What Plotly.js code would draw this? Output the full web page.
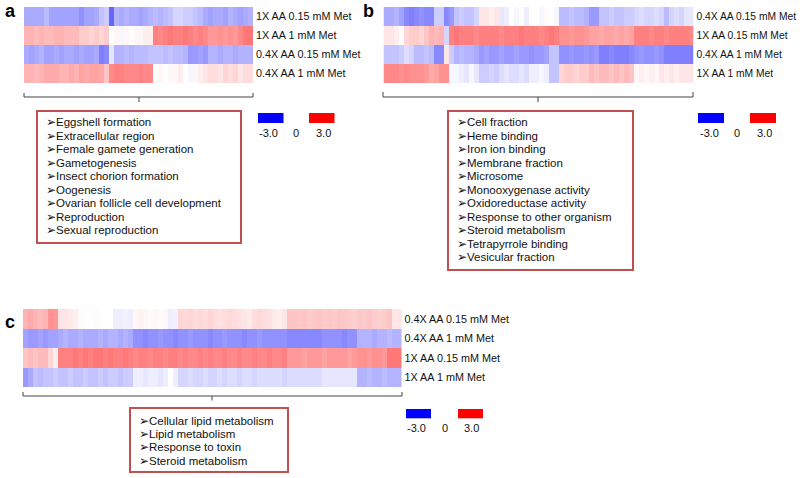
<!DOCTYPE html>
<html><head><meta charset="utf-8">
<script src="https://cdn.plot.ly/plotly-3.0.1.min.js"></script>
<style>html,body{margin:0;padding:0;background:#fff}#chart{width:800px;height:478px}</style>
</head><body><div id="chart"></div>
<script>
// ---------------- DATA ----------------
const rowsA = ["1X AA 0.15 mM Met", "1X AA 1 mM Met", "0.4X AA 0.15 mM Met", "0.4X AA 1 mM Met"];
const rowsB = ["0.4X AA 0.15 mM Met", "1X AA 0.15 mM Met", "0.4X AA 1 mM Met", "1X AA 1 mM Met"];
const rowsC = ["0.4X AA 0.15 mM Met", "0.4X AA 1 mM Met", "1X AA 0.15 mM Met", "1X AA 1 mM Met"];

const a1 = [-1.0,-1.0,-1.0,-1.0,-0.8,-1.1,-1.1,-1.1,-1.1,-1.1,-1.1,-1.3,-1.1,-1.1,-1.0,-0.7,-0.6,-1.8,-0.9,-1.0,-0.9,-1.0,-1.0,-1.1,-1.0,-0.9,-0.8,-0.9,-0.8,-0.7,-0.5,-0.5,-0.6,-0.6,-0.7,-0.8,-1.0,-1.1,-1.0,-1.0,-1.1,-0.9,-1.0,-1.1,-1.0,-0.9];
const a2 = [0.9,0.9,0.8,0.9,0.8,0.8,0.9,0.9,0.8,0.8,0.8,0.6,0.6,0.5,0.6,0.5,0.6,0.0,0.1,-0.1,0.1,0.0,0.1,0.1,0.2,0.2,1.5,1.4,1.5,1.6,1.5,1.5,1.6,1.5,1.4,1.5,1.4,1.2,1.2,1.3,1.2,1.3,1.2,1.4,1.6,1.6];
const a3 = [-1.0,-1.1,-1.0,-0.9,-1.1,-1.1,-1.0,-1.1,-1.0,-1.0,-1.1,-1.0,-1.1,-1.1,-1.0,-1.5,-1.4,-0.3,-0.9,-0.9,-0.8,-0.9,-0.8,-0.8,-0.8,-0.7,-0.7,-0.7,-0.8,-0.7,-0.8,-0.8,-0.9,-1.2,-1.2,-1.1,-1.2,-0.9,-0.9,-1.0,-0.9,-0.9,-1.0,-0.9,-0.9,-0.9];
const a4 = [0.9,0.9,0.8,0.9,1.0,1.0,1.0,0.9,0.9,1.0,0.9,1.1,1.0,1.1,1.1,1.0,0.7,1.4,1.5,1.5,1.4,1.4,1.4,1.5,1.4,1.4,0.0,0.1,0.0,0.1,0.1,0.2,0.0,-0.1,0.1,0.2,0.3,0.4,0.4,0.3,0.5,0.4,0.5,0.3,0.4,0.4];

const b1 = [-1.0,-1.0,-0.9,-1.1,-1.4,-1.5,-1.4,-1.3,-1.4,-1.4,-0.6,-0.6,-1.4,-1.2,-0.7,-0.6,-0.7,-0.7,-0.5,0.3,0.3,0.2,0.3,-0.3,-0.2,0.0,-0.1,0.0,-0.2,0.0,0.0,-0.1,0.05,0.0,-0.1,-0.8,-0.8,-0.7,-0.8,-0.8,-0.9,-1.2,-1.2,-0.7,-0.7,-0.6,-0.7,-0.7,-0.6,-0.6,-0.5,-0.4,-0.5,-0.5,-0.4,-0.5,-0.8,-0.5,-0.4,-0.5,-0.3,-0.3];
const b2 = [0.3,0.3,0.2,0.0,0.5,0.6,0.6,0.5,0.7,0.9,0.8,0.9,-0.5,1.5,1.6,1.5,1.5,1.5,1.4,1.5,1.5,1.5,1.5,1.4,1.5,1.5,1.5,1.6,1.5,1.5,1.5,1.4,1.5,1.6,1.5,1.3,1.3,1.2,1.3,1.3,1.2,1.1,1.1,1.0,1.1,1.1,1.0,1.1,1.0,1.1,1.5,1.5,1.5,1.4,1.5,1.5,1.4,1.5,1.5,1.5,1.5,1.4];
const b3 = [-0.7,-0.7,-0.7,-0.6,-0.4,-0.5,-0.8,-0.8,-0.7,-0.8,-1.4,-1.4,0.3,-0.6,-0.9,-0.8,-0.9,-0.9,-1.0,-1.2,-1.1,-1.2,-1.2,-1.1,-1.2,-1.2,-1.1,-1.2,-1.2,-1.3,-1.2,-1.2,-1.1,-0.7,-0.7,-1.3,-1.3,-1.2,-1.3,-1.3,-1.2,-1.3,-1.2,-1.5,-1.5,-1.4,-1.5,-1.5,-1.5,-1.4,-1.3,-1.2,-1.3,-1.3,-1.2,-1.3,-1.5,-1.5,-1.5,-1.5,-1.5,-1.5];
const b4 = [1.4,1.4,1.4,1.3,1.4,1.3,1.3,1.3,1.2,1.0,1.1,1.3,1.3,-0.1,-0.1,-0.2,-0.3,-0.1,-0.3,-0.6,-0.6,-0.5,-0.6,-0.4,-0.3,-0.4,-0.4,-0.3,-0.4,-0.2,-0.2,-0.1,-0.2,-0.7,-0.7,0.5,0.6,0.6,0.5,0.6,0.6,0.8,0.7,0.8,0.8,0.7,0.8,0.7,0.8,0.7,0.1,0.2,0.1,0.2,0.1,0.3,0.2,0.3,0.2,0.3,0.3,0.3];

const c1 = [0.9,1.0,0.9,0.8,0.9,1.3,1.2,0.3,0.3,0.25,0.2,0.05,0.0,0.0,0.05,0.0,0.0,0.0,-0.2,-0.2,-0.15,-0.2,0.1,0.15,0.1,0.05,0.1,0.05,0.1,-0.2,-0.15,0.5,0.45,0.5,0.4,0.45,0.4,0.5,0.4,0.35,0.4,0.45,0.4,0.35,0.3,0.25,0.4,0.45,0.4,0.35,0.25,0.2,0.3,0.7,0.7,0.65,0.7,0.6,0.65,0.7,0.6,0.65,0.6,0.7,0.65,0.6,0.55,0.65,0.6,0.7,0.6,0.55,0.6,0.7,0.3,0.3];
const c2 = [-1.1,-1.2,-1.2,-1.1,-1.2,-1.1,-1.1,-1.0,-0.9,-1.0,-1.0,-0.9,-1.0,-1.0,-1.0,-0.9,-1.0,-0.9,-0.9,-1.0,-0.9,-1.0,-1.3,-1.3,-1.4,-1.3,-1.3,-1.2,-1.3,-1.3,-1.4,-1.3,-1.3,-1.2,-1.3,-1.3,-1.3,-1.4,-1.3,-1.3,-1.2,-1.3,-1.3,-1.3,-1.4,-1.3,-1.3,-1.2,-1.3,-1.3,-1.3,-1.3,-1.3,-1.4,-1.4,-1.4,-1.4,-1.4,-1.4,-1.4,-1.3,-1.3,-1.3,-1.3,-1.4,-1.3,-1.3,-0.9,-0.9,-0.9,-1.0,-0.9,-0.9,-0.8,-0.9,-0.9];
const c3 = [0.7,0.8,0.7,0.8,0.8,0.5,0.2,1.5,1.5,1.5,1.6,1.5,1.6,1.5,1.6,1.6,1.5,1.6,1.5,1.5,1.6,1.5,1.4,1.5,1.5,1.4,1.5,1.5,1.4,1.5,1.5,1.4,1.5,1.4,1.4,1.5,1.4,1.5,1.4,1.4,1.5,1.4,1.4,1.5,1.4,1.4,1.5,1.4,1.4,1.5,1.4,1.4,1.5,1.2,1.2,1.2,1.1,1.2,1.2,1.2,1.1,1.2,1.2,1.2,1.2,1.1,1.2,1.3,1.3,1.2,1.3,1.3,1.2,1.6,1.6,1.6];
const c4 = [-1.2,-1.0,-0.7,-0.8,-0.7,-0.7,-0.6,-0.7,-0.7,-0.6,-0.7,-0.7,-0.6,-0.7,-0.7,-0.6,-0.7,-0.6,-0.6,-0.7,-0.6,-0.6,-0.2,-0.2,-0.3,-0.2,-0.2,-0.3,-0.2,0.0,-0.2,-0.5,-0.5,-0.4,-0.5,-0.5,-0.4,-0.5,-0.5,-0.4,-0.5,-0.4,-0.4,-0.5,-0.4,-0.4,-0.5,-0.4,-0.4,-0.4,-0.4,-0.4,-0.5,-0.4,-0.4,-0.4,-0.4,-0.4,-0.4,-0.4,-0.3,-0.3,-0.3,-0.3,-0.3,-0.3,-0.3,-0.9,-0.9,-0.8,-0.9,-0.9,-0.8,-0.9,-0.9,-0.9];

const termsA = ["Eggshell formation","Extracellular region","Female gamete generation","Gametogenesis","Insect chorion formation","Oogenesis","Ovarian follicle cell development","Reproduction","Sexual reproduction"];
const termsB = ["Cell fraction","Heme binding","Iron ion binding","Membrane fraction","Microsome","Monooxygenase activity","Oxidoreductase activity","Response to other organism","Steroid metabolism","Tetrapyrrole binding","Vesicular fraction"];
const termsC = ["Cellular lipid metabolism","Lipid metabolism","Response to toxin","Steroid metabolism"];

const scaleLabels = ["-3.0", "0", "3.0"];
const zMin = -3, zMax = 3;

// ---------------- LAYOUT ----------------
const W = 800, H = 478;
const px = x => x / W;
const py = y => 1 - y / H;
const FONT = "Liberation Sans, Arial, Helvetica, sans-serif";
const cs = [[0, "#0000ff"], [0.5, "#ffffff"], [1, "#ff0000"]];

const idx = n => Array.from({length: n}, (_, i) => i);

function hm(rows, data, xa, ya) {
  return {type: "heatmap", z: data, x: idx(data[0].length), y: idx(rows.length),
    colorscale: cs, zmin: zMin, zmax: zMax, showscale: false, hoverinfo: "skip",
    xaxis: xa, yaxis: ya, zsmooth: false};
}
const traces = [
  hm(rowsA, [a1, a2, a3, a4], "x", "y"),
  hm(rowsB, [b1, b2, b3, b4], "x2", "y2"),
  hm(rowsC, [c1, c2, c3, c4], "x3", "y3")
];

function xax(x0, x1) { return {domain: [px(x0), px(x1)], visible: false, fixedrange: true}; }
function yax(rows, y0, y1, anchor, fs) {
  return {domain: [py(y1), py(y0)], anchor: anchor, side: "right", autorange: "reversed",
    tickvals: idx(rows.length), ticktext: rows, ticks: "", ticklabelstandoff: 2, showgrid: false, zeroline: false,
    showline: false, tickfont: {family: FONT, size: fs, color: "#111"}, fixedrange: true};
}

const shapes = [], annotations = [];
const lineCol = "#444";
function bracket(x0, x1, xm, y, rise, drop) {
  shapes.push({type: "path", xref: "paper", yref: "paper",
    path: `M ${px(x0)} ${py(y - rise)} L ${px(x0)} ${py(y)} L ${px(x1)} ${py(y)} L ${px(x1)} ${py(y - rise)}`,
    line: {color: lineCol, width: 1}});
  shapes.push({type: "line", xref: "paper", yref: "paper", x0: px(xm), x1: px(xm), y0: py(y), y1: py(y + drop),
    line: {color: lineCol, width: 1}});
}
function box(x0, y0, x1, y1, terms, tx, ty0, dy) {
  shapes.push({type: "rect", xref: "paper", yref: "paper", x0: px(x0), x1: px(x1), y0: py(y1), y1: py(y0),
    line: {color: "#c0504d", width: 2}, fillcolor: "rgba(0,0,0,0)"});
  terms.forEach((t, i) => annotations.push({xref: "paper", yref: "paper", x: px(tx), y: py(ty0 + i * dy),
    xanchor: "left", yanchor: "middle", showarrow: false, text: "\u27A2" + t,
    font: {family: FONT, size: 11.5, color: "#111"}}));
}
function legend(bx0, rx0, y0, y1, w, labX, labY) {
  shapes.push({type: "rect", xref: "paper", yref: "paper", x0: px(bx0), x1: px(bx0 + w), y0: py(y1), y1: py(y0),
    line: {width: 0}, fillcolor: "#0000ff"});
  shapes.push({type: "rect", xref: "paper", yref: "paper", x0: px(rx0), x1: px(rx0 + w), y0: py(y1), y1: py(y0),
    line: {width: 0}, fillcolor: "#ff0000"});
  scaleLabels.forEach((s, i) => annotations.push({xref: "paper", yref: "paper", x: px(labX[i]), y: py(labY),
    xanchor: "center", yanchor: "middle", showarrow: false, text: s,
    font: {family: FONT, size: 11, color: "#111"}}));
}
function letter(t, x, y) {
  annotations.push({xref: "paper", yref: "paper", x: px(x), y: py(y), xanchor: "center", yanchor: "middle",
    showarrow: false, text: "<b>" + t + "</b>", font: {family: FONT, size: 18, color: "#000"}});
}

// panel a
bracket(24, 253, 139, 97, 4, 5);
box(37, 111, 241, 243, termsA, 44, 122.3, 13.46);
legend(258, 309, 113, 123, 25.5, [268.3, 296, 323.3], 132.7);
letter("a", 10, 11);
// panel b
bracket(383, 693, 538, 97, 5, 5);
box(448, 111, 633, 270, termsB, 455, 122.3, 13.5);
legend(698, 750, 113, 123, 26, [709.3, 737.3, 764], 132.7);
letter("b", 368, 11);
// panel c
bracket(23, 402, 212, 396, 4, 4.5);
box(130, 408, 288, 472, termsC, 137, 420.7, 13.3);
legend(406, 458, 409, 418.3, 25, [416.7, 445, 471.7], 427.7);
letter("c", 10, 322);

const layout = {
  width: W, height: H, margin: {l: 0, r: 0, t: 0, b: 0}, paper_bgcolor: "#fff", plot_bgcolor: "#fff",
  showlegend: false,
  xaxis: xax(24, 253), yaxis: yax(rowsA, 7, 83, "x", 10.8),
  xaxis2: xax(383.5, 693.5), yaxis2: yax(rowsB, 7, 83, "x2", 10.3),
  xaxis3: xax(23, 401.5), yaxis3: yax(rowsC, 309, 387, "x3", 10.8),
  shapes: shapes, annotations: annotations
};
Plotly.newPlot("chart", traces, layout, {staticPlot: true, displayModeBar: false});
</script></body></html>
